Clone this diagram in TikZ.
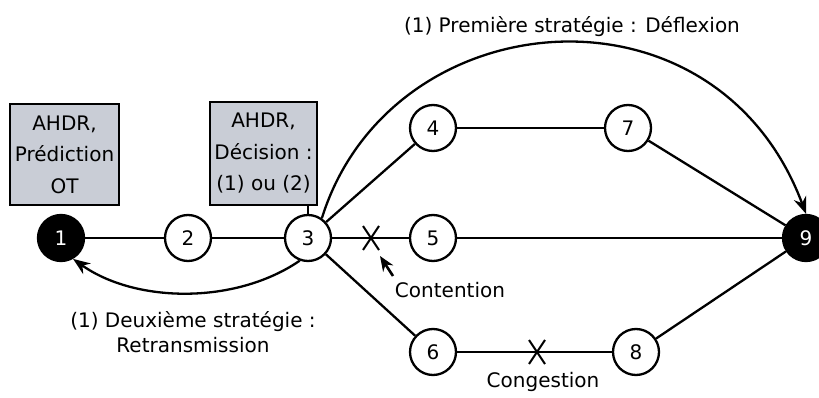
\documentclass[tikz,border=0pt]{standalone}
\usepackage{fontspec}
\setmainfont{DejaVu Sans}
\usetikzlibrary{arrows.meta}
\definecolor{boxfill}{HTML}{C9CDD6}
\begin{document}
\begin{tikzpicture}[x=1pt,y=-1pt,
  font=\fontsize{20}{24}\selectfont,
  router/.style={circle,draw,line width=2.3pt,minimum size=46pt,inner sep=0pt,fill=white},
  endpoint/.style={router,fill=black,text=white},
  infobox/.style={draw,line width=2.6pt,fill=boxfill,align=center,inner sep=0pt,
    font=\fontsize{20}{31.5}\selectfont},
  link/.style={line width=2.3pt},
  strategy/.style={line width=2.3pt,-{Stealth[length=17pt,width=13pt]}},
  marker/.style={line width=2pt},
  label/.style={align=center,inner sep=0pt}]
\useasboundingbox (0,0) rectangle (819,398);

% routers
\node[endpoint] (n1) at (61,238) {1};
\node[router] (n2) at (188,238) {2};
\node[router] (n3) at (308,238) {3};
\node[router] (n4) at (433,128) {4};
\node[router] (n5) at (433,238) {5};
\node[router] (n6) at (433,352) {6};
\node[router] (n7) at (628,128) {7};
\node[router] (n8) at (636,352) {8};
\node[endpoint] (n9) at (806,238) {9};

% AHDR boxes
\node[infobox,minimum width=109pt,minimum height=101pt] (b1) at (64.5,154.5)
  {AHDR,\\Prédiction\\OT};
\node[infobox,minimum width=107pt,minimum height=103pt] (b3) at (263.5,153.5)
  {AHDR,\\Décision :\\(1) ou (2)};

% links
\draw[link] (n1) -- (n2);
\draw[link] (n2) -- (n3);
\draw[link] (n3) -- (n4);
\draw[link] (n3) -- (n5);
\draw[link] (n3) -- (n6);
\draw[link] (n4) -- (n7);
\draw[link] (n5) -- (n9);
\draw[link] (n6) -- (n8);
\draw[link] (n7) -- (n9);
\draw[link] (n8) -- (n9);
\coordinate (b3foot) at (308,205);
\draw[link] (b3foot) -- (n3.north);

% strategy (1): deflection
\draw[strategy] (n3.55) .. controls (390,0) and (715,-29) .. (n9.north);
\node[label] (deflex) at (572,27) {(1) Première stratégie : Déflexion};

% strategy (2): retransmission
\draw[strategy] (n3.250) .. controls (235,305) and (135,303) .. (n1.300);
\node[label,font=\fontsize{20}{25}\selectfont] (retrans) at (193,332)
  {(1) Deuxième stratégie :\\Retransmission};

% contention on link 3-5
\coordinate (x1) at (371,238);
\draw[marker] ([shift={(-8,-12)}]x1) -- ([shift={(8,12)}]x1);
\draw[marker] ([shift={(8,-12)}]x1) -- ([shift={(-8,12)}]x1);
\coordinate (ctail) at (393,276);
\coordinate (chead) at (380,256);
\draw[line width=2.6pt,-{Stealth[length=15pt,width=12pt]}] (ctail) -- (chead);
\node[label] (cont) at (450,290) {Contention};

% congestion on link 6-8
\coordinate (x2) at (537,352);
\draw[marker] ([shift={(-8,-12)}]x2) -- ([shift={(8,12)}]x2);
\draw[marker] ([shift={(8,-12)}]x2) -- ([shift={(-8,12)}]x2);
\node[label] (cong) at (543,382) {Congestion};
\end{tikzpicture}
\end{document}
